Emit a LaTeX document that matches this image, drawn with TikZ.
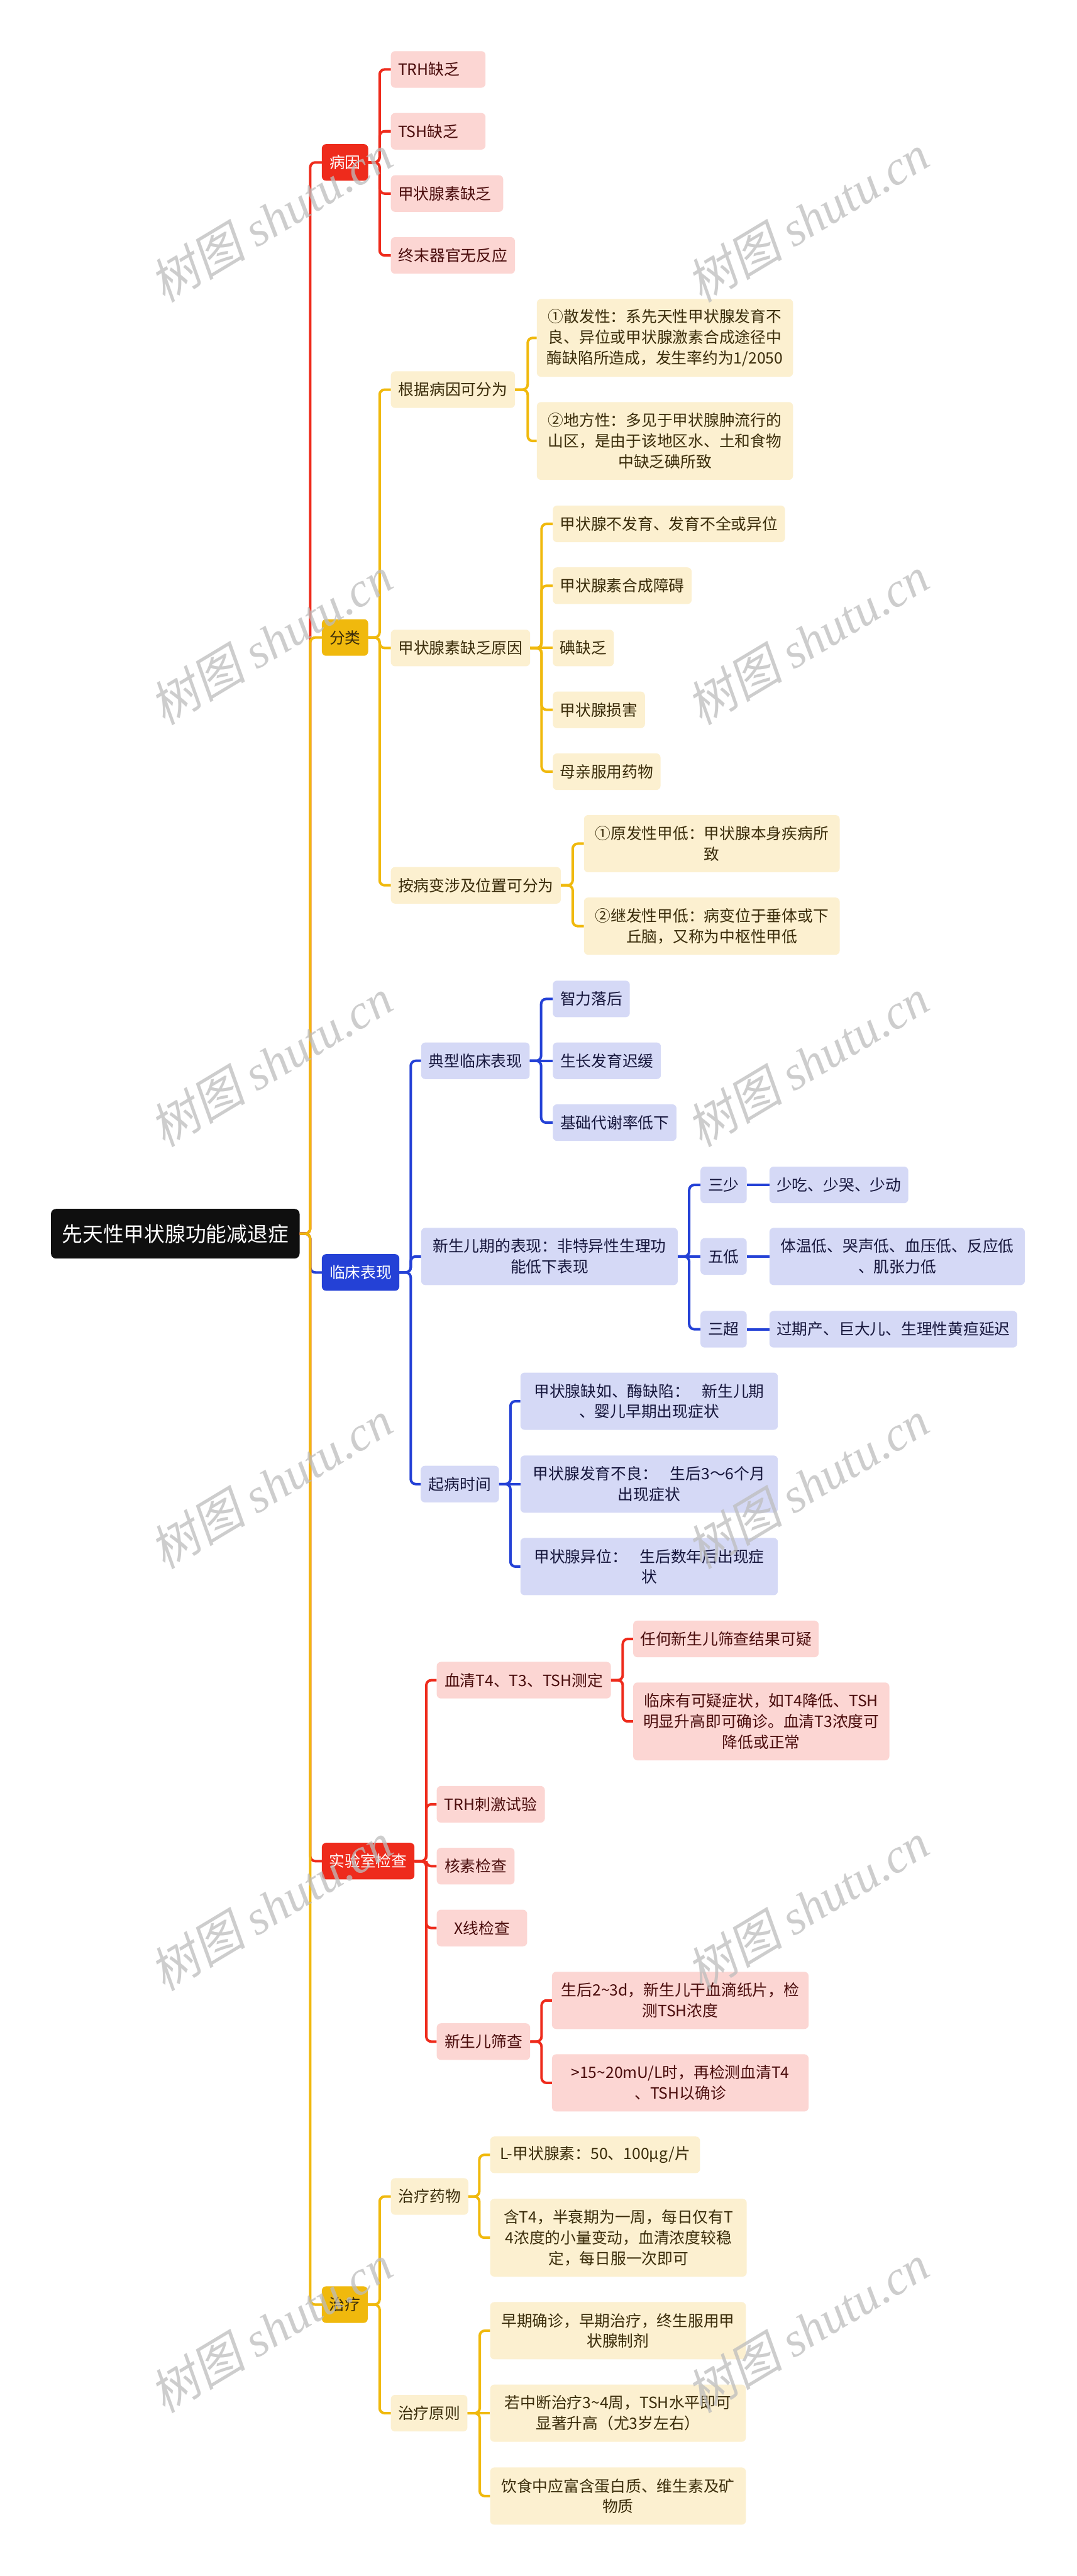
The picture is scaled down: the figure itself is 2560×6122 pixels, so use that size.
\documentclass[tikz,border=0pt]{standalone}
\usepackage{fontspec}
\setmainfont{Noto Sans CJK SC}
\newfontfamily\wmlat{Liberation Serif}
\newfontfamily\wmcjk{Noto Sans CJK SC}[FakeSlant=0.2]
\definecolor{cR}{HTML}{EE2B1C}
\definecolor{cY}{HTML}{F0B90D}
\definecolor{cB}{HTML}{2441D6}
\definecolor{cRl}{HTML}{FCD6D3}
\definecolor{cYl}{HTML}{FCF0D0}
\definecolor{cBl}{HTML}{D5D9F6}
\definecolor{cRt}{HTML}{4A0C0C}
\definecolor{cYt}{HTML}{3A2C0A}
\definecolor{cBt}{HTML}{16163C}
\definecolor{cK}{HTML}{0F0F0F}
\definecolor{cWM}{HTML}{BDBDBD}
\begin{document}
\begin{tikzpicture}[x=1pt,y=-1pt,
  base/.style={anchor=west, rounded corners=10pt, inner xsep=17pt, inner ysep=0pt,
    minimum height=87pt, font=\fontsize{37pt}{49pt}\selectfont},
  two/.style={minimum height=136pt},
  three/.style={minimum height=185pt},
  mw/.style={minimum width=#1pt},
  tw/.style={text width=#1pt, align=center},
  lfR/.style={base, fill=cRl, text=cRt},
  lfY/.style={base, fill=cYl, text=cYt},
  lfB/.style={base, fill=cBl, text=cBt},
  brR/.style={base, fill=cR, text=white},
  brY/.style={base, fill=cY, text=cYt},
  brB/.style={base, fill=cB, text=white},
  rootbox/.style={anchor=west, rounded corners=12pt, fill=cK, text=white,
    minimum width=591pt, minimum height=118pt, inner sep=0pt,
    font=\fontsize{49pt}{60pt}\selectfont},
  edge/.style={line width=6pt, rounded corners=12pt},
  eR/.style={edge, draw=cR},
  eY/.style={edge, draw=cY},
  eB/.style={edge, draw=cB},
  wm/.style={rotate=31, text=cWM, opacity=0.75, inner sep=0pt,
    font=\fontsize{115pt}{120pt}\selectfont}
]
\fill[white] (0,0) rectangle (2560,6122);
\useasboundingbox (0,0) rectangle (2560,6122);

% root and main branches
\node[rootbox] (root) at (121,2932) {先天性甲状腺功能减退症};
\node[brR, mw=110] (b1) at (765,386) {病因};
\node[brY, mw=110] (b2) at (765,1515) {分类};
\node[brB, mw=184] (b3) at (765,3024) {临床表现};
\node[brR, mw=220] (b4) at (765,4423) {实验室检查};
\node[brY, mw=109] (b5) at (765,5477) {治疗};

% 病因
\node[lfR, mw=225] (a1) at (929,165) {\makebox[191pt][l]{TRH缺乏}};
\node[lfR, mw=225] (a2) at (929,312) {\makebox[191pt][l]{TSH缺乏}};
\node[lfR, mw=267] (a3) at (929,460) {\makebox[233pt][l]{甲状腺素缺乏}};
\node[lfR, mw=295] (a4) at (929,607) {终末器官无反应};

% 分类
\node[lfY, mw=295] (c1) at (929,926) {根据病因可分为};
\node[lfY, three, tw=575] (c11) at (1276,803) {①散发性：系先天性甲状腺发育不\\良、异位或甲状腺激素合成途径中\\酶缺陷所造成，发生率约为1/2050};
\node[lfY, three, tw=575] (c12) at (1276,1048) {②地方性：多见于甲状腺肿流行的\\山区，是由于该地区水、土和食物\\中缺乏碘所致};
\node[lfY, mw=331] (c2) at (929,1540) {甲状腺素缺乏原因};
\node[lfY, mw=551] (c21) at (1314,1245) {甲状腺不发育、发育不全或异位};
\node[lfY, mw=329] (c22) at (1314,1392) {甲状腺素合成障碍};
\node[lfY, mw=144] (c23) at (1314,1540) {碘缺乏};
\node[lfY, mw=217] (c24) at (1314,1687) {甲状腺损害};
\node[lfY, mw=255] (c25) at (1314,1834) {母亲服用药物};
\node[lfY, mw=404] (c3) at (929,2104) {按病变涉及位置可分为};
\node[lfY, two, tw=574] (c31) at (1388,2005) {①原发性甲低：甲状腺本身疾病所\\致};
\node[lfY, two, tw=574] (c32) at (1388,2201) {②继发性甲低：病变位于垂体或下\\丘脑，又称为中枢性甲低};

% 临床表现
\node[lfB, mw=258] (d1) at (1001,2521) {典型临床表现};
\node[lfB, mw=183] (d11) at (1314,2374) {智力落后};
\node[lfB, mw=257] (d12) at (1314,2521) {生长发育迟缓};
\node[lfB, mw=294] (d13) at (1314,2668) {基础代谢率低下};
\node[lfB, two, tw=576] (d2) at (1001,2986) {新生儿期的表现：非特异性生理功\\能低下表现};
\node[lfB, mw=110] (d21) at (1665,2816) {三少};
\node[lfB, mw=329] (d211) at (1829,2816) {少吃、少哭、少动};
\node[lfB, mw=110] (d22) at (1665,2986) {五低};
\node[lfB, two, tw=573] (d221) at (1829,2986) {体温低、哭声低、血压低、反应低\\、肌张力低};
\node[lfB, mw=110] (d23) at (1665,3159) {三超};
\node[lfB, mw=587] (d231) at (1829,3159) {过期产、巨大儿、生理性黄疸延迟};
\node[lfB, mw=186] (d3) at (1000,3527) {起病时间};
\node[lfB, two, tw=578] (d31) at (1237,3330) {甲状腺缺如、酶缺陷：\hspace{0.8em}新生儿期\\、婴儿早期出现症状};
\node[lfB, two, tw=578] (d32) at (1237,3527) {甲状腺发育不良：\hspace{0.8em}生后3～6个月\\出现症状};
\node[lfB, two, tw=578] (d33) at (1237,3723) {甲状腺异位：\hspace{0.8em}生后数年后出现症\\状};

% 实验室检查
\node[lfR, mw=414] (e1) at (1038,3993) {血清T4、T3、TSH测定};
\node[lfR, mw=441] (e11) at (1505,3895) {任何新生儿筛查结果可疑};
\node[lfR, three, tw=575] (e12) at (1505,4091) {临床有可疑症状，如T4降低、TSH\\明显升高即可确诊。血清T3浓度可\\降低或正常};
\node[lfR, mw=257] (e2) at (1038,4288) {TRH刺激试验};
\node[lfR, mw=185] (e3) at (1038,4435) {核素检查};
\node[lfR, mw=215] (e4) at (1038,4582) {X线检查};
\node[lfR, mw=222] (e5) at (1038,4852) {新生儿筛查};
\node[lfR, two, tw=576] (e51) at (1312,4754) {生后2\string~3d，新生儿干血滴纸片，检\\测TSH浓度};
\node[lfR, two, tw=576] (e52) at (1312,4950) {>15\string~20mU/L时，再检测血清T4\\、TSH以确诊};

% 治疗
\node[lfY, mw=184] (f1) at (929,5220) {治疗药物};
\node[lfY, mw=499] (f11) at (1165,5121) {L-甲状腺素：50、100μg/片};
\node[lfY, three, tw=576] (f12) at (1165,5318) {含T4，半衰期为一周，每日仅有T\\4浓度的小量变动，血清浓度较稳\\定，每日服一次即可};
\node[lfY, mw=181] (f2) at (929,5735) {治疗原则};
\node[lfY, two, tw=574] (f21) at (1165,5539) {早期确诊，早期治疗，终生服用甲\\状腺制剂};
\node[lfY, two, tw=574] (f22) at (1165,5735) {若中断治疗3\string~4周，TSH水平即可\\显著升高（尤3岁左右）};
\node[lfY, two, tw=574] (f23) at (1165,5932) {饮食中应富含蛋白质、维生素及矿\\物质};

% connectors: root to branches
\draw[eR] (root.east) -- ++(25,0) |- (b1.west);
\draw[eY] (root.east) -- ++(25,0) |- (b2.west);
\draw[eB] (root.east) -- ++(25,0) |- (b3.west);
\draw[eR] (root.east) -- ++(25,0) |- (b4.west);
\draw[eY] (root.east) -- ++(25,0) |- (b5.west);

% 病因
\foreach \c in {a1,a2,a3,a4} \draw[eR] (b1.east) -- ++(27,0) |- (\c.west);
% 分类
\foreach \c in {c1,c2,c3} \draw[eY] (b2.east) -- ++(27,0) |- (\c.west);
\foreach \c in {c11,c12} \draw[eY] (c1.east) -- ++(30,0) |- (\c.west);
\foreach \c in {c21,c22,c24,c25} \draw[eY] (c2.east) -- ++(27,0) |- (\c.west);
\draw[eY] (c2.east) -- (c23.west);
\foreach \c in {c31,c32} \draw[eY] (c3.east) -- ++(28,0) |- (\c.west);
% 临床表现
\foreach \c in {d1,d2,d3} \draw[eB] (b3.east) -- ++(27,0) |- (\c.west);
\foreach \c in {d11,d13} \draw[eB] (d1.east) -- ++(27,0) |- (\c.west);
\draw[eB] (d1.east) -- (d12.west);
\foreach \c in {d21,d23} \draw[eB] (d2.east) -- ++(27,0) |- (\c.west);
\draw[eB] (d2.east) -- (d22.west);
\draw[eB] (d21.east) -- (d211.west);
\draw[eB] (d22.east) -- (d221.west);
\draw[eB] (d23.east) -- (d231.west);
\foreach \c in {d31,d33} \draw[eB] (d3.east) -- ++(27,0) |- (\c.west);
\draw[eB] (d3.east) -- (d32.west);
% 实验室检查
\foreach \c in {e1,e2,e3,e4,e5} \draw[eR] (b4.east) -- ++(28,0) |- (\c.west);
\foreach \c in {e11,e12} \draw[eR] (e1.east) -- ++(28,0) |- (\c.west);
\foreach \c in {e51,e52} \draw[eR] (e5.east) -- ++(27,0) |- (\c.west);
% 治疗
\foreach \c in {f1,f2} \draw[eY] (b5.east) -- ++(28,0) |- (\c.west);
\foreach \c in {f11,f12} \draw[eY] (f1.east) -- ++(26,0) |- (\c.west);
\foreach \c in {f21,f23} \draw[eY] (f2.east) -- ++(29,0) |- (\c.west);
\draw[eY] (f2.east) -- (f22.west);

% watermark
\foreach \k in {0,...,5} {
  \node[wm] (wl\k) at (644,519+1003*\k) {{\wmcjk\itshape 树图} {\wmlat\itshape shutu.cn}};
  \node[wm] (wr\k) at (1920,519+1003*\k) {{\wmcjk\itshape 树图} {\wmlat\itshape shutu.cn}};
}
\end{tikzpicture}
\end{document}
